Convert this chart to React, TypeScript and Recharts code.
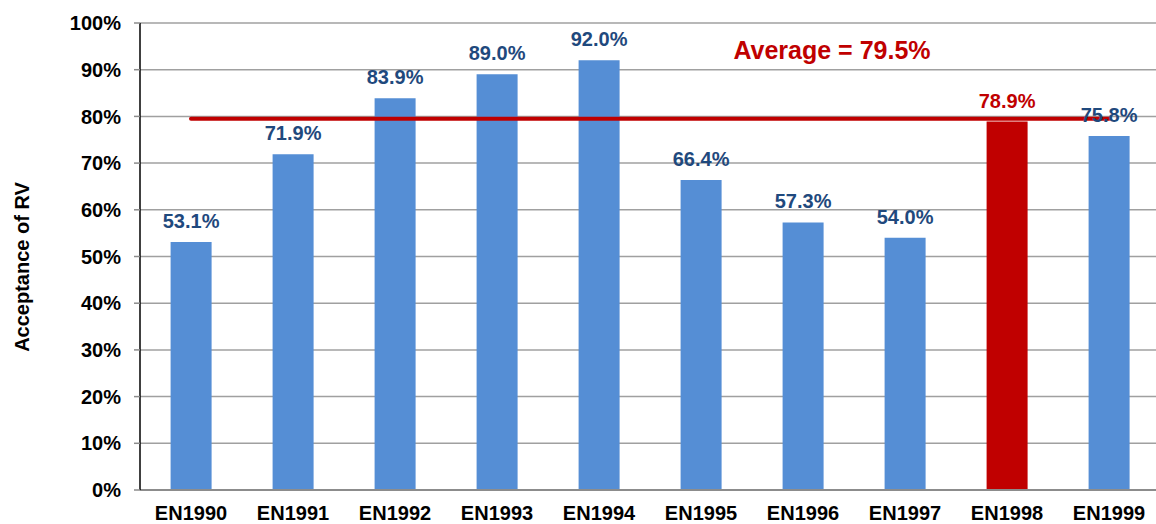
import { Bar, Cell, ComposedChart, CartesianGrid, LabelList, Line, XAxis, YAxis } from "recharts";

const categories = ["EN1990", "EN1991", "EN1992", "EN1993", "EN1994", "EN1995", "EN1996", "EN1997", "EN1998", "EN1999"];
const acceptance = [53.1, 71.9, 83.9, 89.0, 92.0, 66.4, 57.3, 54.0, 78.9, 75.8];
const averageValue = 79.5;
const highlighted = "EN1998";
const yTicks = [0, 10, 20, 30, 40, 50, 60, 70, 80, 90, 100];

const blue = "#558ED5";
const red = "#C00000";
const labelBlue = "#1F497D";
const font = "'Liberation Sans', Arial, sans-serif";

const data = categories.map((name, i) => ({ name, value: acceptance[i], avg: averageValue }));

const tickStyle = { fill: "#000", fontSize: 20, fontWeight: 700, fontFamily: font };

function ValueLabel(props: any) {
  const { x, y, width, value, index } = props;
  const isHi = categories[index] === highlighted;
  return (
    <text
      x={x + width / 2}
      y={y - 14}
      textAnchor="middle"
      fill={isHi ? red : labelBlue}
      fontSize={20}
      fontWeight={700}
      fontFamily={font}
    >
      {value.toFixed(1)}%
    </text>
  );
}

// average caption sits above the line near EN1996
function AverageLabel(props: any) {
  const { x, y, index } = props;
  if (index !== 6) return null;
  return (
    <text x={x + 29} y={y - 60} textAnchor="middle" fill={red} fontSize={25} fontWeight={700} fontFamily={font}>
      Average = {averageValue.toFixed(1)}%
    </text>
  );
}

function AxisTitle() {
  return (
    <text
      x={0}
      y={0}
      transform="translate(29, 267) rotate(-90)"
      textAnchor="middle"
      fill="#000"
      fontSize={20}
      fontWeight={700}
      fontFamily={font}
    >
      Acceptance of RV
    </text>
  );
}

export default function App() {
  return (
    <div style={{ position: "absolute", left: 0, top: 0, width: 1156, height: 524, overflow: "hidden", background: "#fff" }}>
      <ComposedChart
        width={1160}
        height={524}
        data={data}
        margin={{ top: 23, right: 0, bottom: 0, left: 0 }}
        barCategoryGap="30%"
      >
        <CartesianGrid vertical={false} stroke="#a0a0a0" strokeWidth={1.5} />
        <XAxis
          dataKey="name"
          height={34}
          tickSize={0}
          tickMargin={16}
          tick={tickStyle}
          axisLine={{ stroke: "#8c8c8c", strokeWidth: 2 }}
          interval={0}
        />
        <YAxis
          width={140}
          domain={[0, 100]}
          ticks={yTicks}
          tickFormatter={(v) => `${v}%`}
          tick={tickStyle}
          tickSize={6}
          tickMargin={13}
          tickLine={{ stroke: "#8c8c8c", strokeWidth: 1.5 }}
          axisLine={{ stroke: "#000", strokeWidth: 1.5 }}
          label={{ content: () => <AxisTitle /> }}
        />
        <Line
          dataKey="avg"
          stroke={red}
          strokeWidth={4}
          strokeLinecap="round"
          dot={false}
          activeDot={false}
          isAnimationActive={false}
        >
          <LabelList dataKey="avg" content={<AverageLabel />} />
        </Line>
        <Bar dataKey="value" isAnimationActive={false}>
          {data.map((d) => (
            <Cell key={d.name} fill={d.name === highlighted ? red : blue} />
          ))}
          <LabelList dataKey="value" content={<ValueLabel />} />
        </Bar>
      </ComposedChart>
    </div>
  );
}
